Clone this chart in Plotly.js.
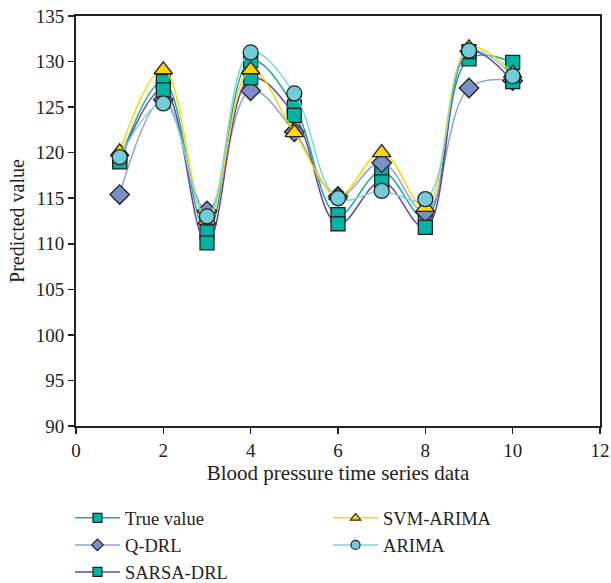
<!DOCTYPE html>
<html><head><meta charset="utf-8">
<script src="https://cdn.plot.ly/plotly-3.0.1.min.js"></script>
<style>html,body{margin:0;padding:0;background:#fff}#c{width:611px;height:583px}</style>
</head><body><div id="c"></div>
<script>
const xs = [1,2,3,4,5,6,7,8,9,10];
const trueValue = [119.1,127.8,111.3,130.1,125.0,113.2,117.9,112.9,130.3,129.9];
const qDRL      = [115.4,125.8,113.6,126.8,122.3,115.2,118.9,113.5,127.1,127.9];
const sarsaDRL  = [119.0,126.9,110.1,128.2,124.1,112.2,116.8,111.8,131.1,127.8];
const svmARIMA  = [120.1,129.1,112.6,129.1,122.2,115.3,120.0,114.0,131.5,128.7];
const arima     = [119.5,125.4,113.0,131.0,126.5,115.0,115.8,114.9,131.2,128.4];
const names = ['True value','Q-DRL','SARSA-DRL','SVM-ARIMA','ARIMA'];

const serif = "Liberation Serif, DejaVu Serif, serif";
const styles = [
  {line:'#1aa99b', sym:'square', fill:'#00b2a2', size:14, lg:'legend'},
  {line:'#8fa3db', sym:'diamond', fill:'#7b8fc7', size:15, lg:'legend'},
  {line:'#6b3fa0', sym:'square', fill:'#00b2a2', size:14, lg:'legend'},
  {line:'#f7d900', sym:'triangle-up', fill:'#ffd700', size:16, lg:'legend2'},
  {line:'#7fd3e0', sym:'circle', fill:'#72cdd9', size:15, lg:'legend2'}
];
const series = [trueValue, qDRL, sarsaDRL, svmARIMA, arima];
const data = [];
series.forEach((y, i) => {
  const s = styles[i];
  data.push({x: xs, y: y, name: names[i], type: 'scatter', mode: 'lines+markers', showlegend: false,
    line: {color: s.line, width: 1.5, shape: 'spline', smoothing: 1.1},
    marker: {symbol: s.sym, color: s.fill, size: s.size, line: {color: '#222', width: 1.3}}});
});
series.forEach((y, i) => {
  const s = styles[i];
  data.push({x: [null], y: [null], name: names[i], type: 'scatter', mode: 'lines+markers', showlegend: true,
    legend: s.lg,
    line: {color: s.line, width: 1.5},
    marker: {symbol: s.sym, color: s.fill, size: 9, line: {color: '#222', width: 1.2}}});
});
const legendCommon = {xanchor: 'left', yanchor: 'top', xref: 'paper', yref: 'container',
  orientation: 'v', font: {family: serif, size: 18.5, color: '#222'}, bgcolor: 'rgba(0,0,0,0)',
  tracegroupgap: 0, itemwidth: 45};
const layout = {
  width: 611, height: 583,
  margin: {l: 76, r: 11, t: 16, b: 157},
  paper_bgcolor: '#fff', plot_bgcolor: '#fff',
  font: {family: serif, color: '#222', size: 19},
  xaxis: {range: [0, 12], dtick: 2, tick0: 0, showgrid: false, zeroline: false,
    showline: true, linecolor: '#222', linewidth: 2, mirror: true,
    ticks: 'outside', ticklen: 6, tickwidth: 1.5, tickcolor: '#222',
    tickfont: {family: serif, size: 19},
    title: {text: 'Blood pressure time series data', font: {family: serif, size: 21}, standoff: 5}},
  yaxis: {range: [90, 135], dtick: 5, tick0: 90, showgrid: false, zeroline: false,
    showline: true, linecolor: '#222', linewidth: 2, mirror: true,
    ticks: 'outside', ticklen: 6, tickwidth: 1.5, tickcolor: '#222',
    tickfont: {family: serif, size: 19},
    title: {text: 'Predicted value', font: {family: serif, size: 20}, standoff: 6}},
  legend: Object.assign({}, legendCommon, {x: -0.0115, y: 0.1435}),
  legend2: Object.assign({}, legendCommon, {x: 0.481, y: 0.1435}),
  showlegend: true
};
Plotly.newPlot('c', data, layout, {displayModeBar: false, staticPlot: true});
</script></body></html>
